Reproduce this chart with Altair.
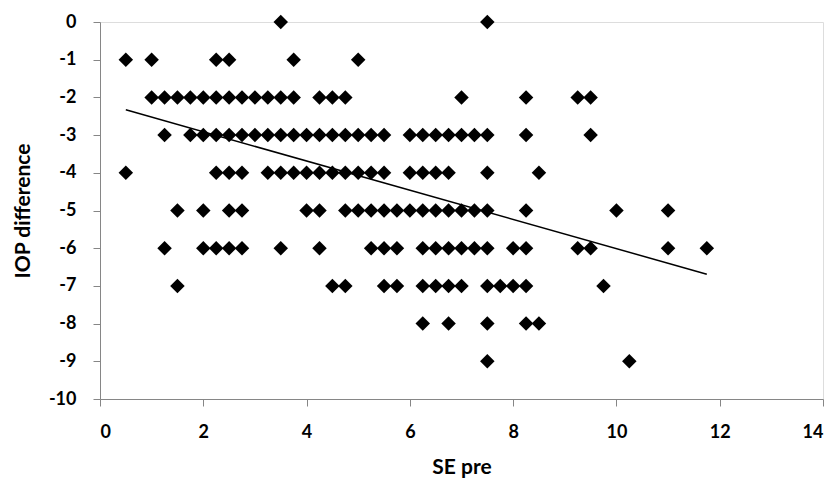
import altair as alt
import pandas as pd

# SE pre values for each IOP difference row
row_0 = [3.5, 7.5]
row_m1 = [0.5, 1, 2.25, 2.5, 3.75, 5]
row_m2 = [1, 1.25, 1.5, 1.75, 2, 2.25, 2.5, 2.75, 3, 3.25, 3.5, 3.75, 4.25, 4.5, 4.75, 7, 8.25, 9.25, 9.5]
row_m3 = [1.25, 1.75, 2, 2.25, 2.5, 2.75, 3, 3.25, 3.5, 3.75, 4, 4.25, 4.5, 4.75, 5, 5.25, 5.5,
          6, 6.25, 6.5, 6.75, 7, 7.25, 7.5, 8.25, 9.5]
row_m4 = [0.5, 2.25, 2.5, 2.75, 3.25, 3.5, 3.75, 4, 4.25, 4.5, 4.75, 5, 5.25, 5.5,
          6, 6.25, 6.5, 6.75, 7.5, 8.5]
row_m5 = [1.5, 2, 2.5, 2.75, 4, 4.25, 4.75, 5, 5.25, 5.5, 5.75, 6, 6.25, 6.5, 6.75, 7, 7.25, 7.5,
          8.25, 10, 11]
row_m6 = [1.25, 2, 2.25, 2.5, 2.75, 3.5, 4.25, 5.25, 5.5, 5.75, 6.25, 6.5, 6.75, 7, 7.25, 7.5,
          8, 8.25, 9.25, 9.5, 11, 11.75]
row_m7 = [1.5, 4.5, 4.75, 5.5, 5.75, 6.25, 6.5, 6.75, 7, 7.5, 7.75, 8, 8.25, 9.75]
row_m8 = [6.25, 6.75, 7.5, 8.25, 8.5]
row_m9 = [7.5, 10.25]

rows = {0: row_0, -1: row_m1, -2: row_m2, -3: row_m3, -4: row_m4, -5: row_m5,
        -6: row_m6, -7: row_m7, -8: row_m8, -9: row_m9}

# Linear trend line endpoints
trend_x = [0.5, 11.75]
trend_y = [-2.33, -6.69]

x_ticks = [0, 2, 4, 6, 8, 10, 12, 14]
y_ticks = [0, -1, -2, -3, -4, -5, -6, -7, -8, -9, -10]

pts = pd.DataFrame([{"SE pre": x, "IOP difference": y} for y, xs in rows.items() for x in xs])
trend = pd.DataFrame({"SE pre": trend_x, "IOP difference": trend_y})

FONT = "Lato"

x_enc = alt.X("SE pre:Q", scale=alt.Scale(domain=[0, 14], nice=False),
              axis=alt.Axis(values=x_ticks, title="SE pre", grid=False, labelOverlap=False,
                            labelExpr="datum.value + ''",
                            domainColor="#868686", tickColor="#868686", tickSize=7,
                            labelFont=FONT, labelFontSize=18, labelFontWeight="bold",
                            labelColor="black", labelPadding=17,
                            titleFont=FONT, titleFontSize=21, titleFontWeight="bold",
                            titleColor="black", titlePadding=15))
y_enc = alt.Y("IOP difference:Q", scale=alt.Scale(domain=[-10, 0], nice=False),
              axis=alt.Axis(values=y_ticks, title="IOP difference", grid=False, labelOverlap=False,
                            labelExpr="datum.value + ''",
                            domainColor="#868686", tickColor="#868686", tickSize=7,
                            labelFont=FONT, labelFontSize=18, labelFontWeight="bold",
                            labelColor="black", labelPadding=17,
                            titleFont=FONT, titleFontSize=21, titleFontWeight="bold",
                            titleColor="black", titlePadding=15))

points = alt.Chart(pts).mark_point(shape="diamond", filled=True, color="black",
                                   size=210, opacity=1).encode(x=x_enc, y=y_enc)
line = alt.Chart(trend).mark_line(color="black", strokeWidth=1.5).encode(x=x_enc, y=y_enc)

chart = alt.layer(points, line).properties(
    width=723, height=377,
    autosize=alt.AutoSizeParams(type="none"),
    padding={"left": 92, "top": 14, "right": 6, "bottom": 80},
).configure_view(stroke=None).configure_axis(labelOverlap=False).configure(background="white")

chart.save("out.html", embed_options={"renderer": "svg", "actions": False})
